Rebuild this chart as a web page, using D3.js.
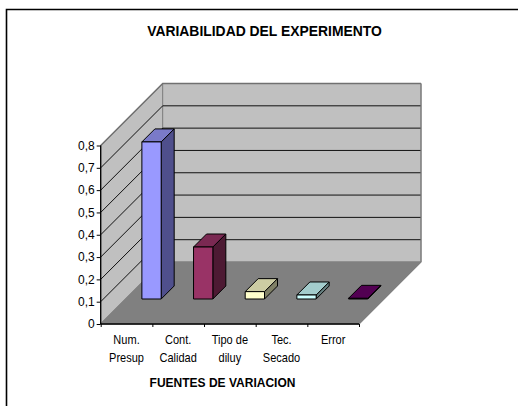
<!DOCTYPE html>
<html><head><meta charset="utf-8">
<script src="https://cdn.jsdelivr.net/npm/d3@7/dist/d3.min.js"></script>
<style>html,body{margin:0;padding:0;background:#fff}svg{display:block}text{font-family:"Liberation Sans",Arial,sans-serif;fill:#000}</style>
</head><body><div id="c"></div>
<script>
const categories = [["Num.","Presup"],["Cont.","Calidad"],["Tipo de","diluy"],["Tec.","Secado"],["Error"]];
const values = [0.704, 0.233, 0.033, 0.018, 0.003];
const frontColors = ["#9999FF","#993366","#FFFFCC","#CCFFFF","#660066"];
const topColors = ["#7A7AC9","#7A2952","#CCCCA3","#A3CCCC","#520052"];
const sideColors = ["#4F4F8C","#4D1A33","#808066","#668080","#330033"];
const yTicks = [0,0.1,0.2,0.3,0.4,0.5,0.6,0.7,0.8];
const titleText = "VARIABILIDAD DEL EXPERIMENTO";
const xTitleText = "FUENTES DE VARIACION";

const W=518,H=406, depth=62, barDepth=13, barOffset=25;
const svg=d3.select("#c").append("svg").attr("width",W).attr("height",H);
const x=d3.scaleBand().domain(d3.range(categories.length)).range([100.7,359]).paddingInner(0).paddingOuter(0);
const y=d3.scaleLinear().domain([0,0.8]).range([324,145.5]);
const bw=x.bandwidth(), barW=19.3;
const pts=a=>a.map(p=>p.join(",")).join(" ");
const xl=x.range()[0], xr=x.range()[1];

// outer frame (only top and left are visible)
svg.append("path").attr("d",`M6.5,${H}V9.5H${W}`).attr("fill","none").attr("stroke","#000").attr("stroke-width",1.6);

// walls and floor
svg.append("polygon").attr("points",pts([[xl,y(0)],[xl,y(0.8)],[xl+depth,y(0.8)-depth],[xl+depth,y(0)-depth]])).attr("fill","#C0C0C0").attr("stroke","#808080");
svg.append("polygon").attr("points",pts([[xl+depth,y(0)-depth],[xl+depth,y(0.8)-depth],[xr+depth,y(0.8)-depth],[xr+depth,y(0)-depth]])).attr("fill","#C0C0C0").attr("stroke","#808080");
svg.append("polygon").attr("points",pts([[xl,y(0)],[xr,y(0)],[xr+depth,y(0)-depth],[xl+depth,y(0)-depth]])).attr("fill","#808080").attr("stroke","#808080");

// gridlines
const inner=yTicks.filter(t=>t>0&&t<0.8);
svg.append("g").selectAll("path").data(inner).join("path")
  .attr("d",t=>`M${xl},${y(t)}L${xl+depth},${y(t)-depth}H${xr+depth}`)
  .attr("fill","none").attr("stroke","#111").attr("stroke-width",1);
svg.append("path").attr("d",`M${xl},${y(0.8)}L${xl+depth},${y(0.8)-depth}H${xr+depth}`).attr("fill","none").attr("stroke","#707070").attr("stroke-width",1.4);
svg.append("path").attr("d",`M${xr+depth},${y(0.8)-depth}V${y(0)-depth}L${xr},${y(0)}`).attr("fill","none").attr("stroke","#808080").attr("stroke-width",1.2);
svg.append("path").attr("d",`M${xl},${y(0)}L${xl+depth},${y(0)-depth}`).attr("fill","none").attr("stroke","#808080").attr("stroke-width",1.2);

// 3D bars
const bars=svg.append("g").selectAll("g").data(values).join("g");
const bx=(d,i)=>x(i)+barOffset+(bw-barW)/2;
const by0=y(0)-barOffset;
const barTop=d=>by0-(y(0)-y(d));
bars.append("polygon").attr("points",(d,i)=>{const l=bx(d,i),r=l+barW,t=barTop(d);return pts([[r,t],[r+barDepth,t-barDepth],[r+barDepth,by0-barDepth],[r,by0]]);})
  .attr("fill",(d,i)=>sideColors[i]);
bars.append("polygon").attr("points",(d,i)=>{const l=bx(d,i),r=l+barW,t=barTop(d);return pts([[l,t],[l+barDepth,t-barDepth],[r+barDepth,t-barDepth],[r,t]]);})
  .attr("fill",(d,i)=>topColors[i]);
bars.append("rect").attr("x",(d,i)=>bx(d,i)).attr("y",d=>barTop(d)).attr("width",barW).attr("height",d=>by0-barTop(d))
  .attr("fill",(d,i)=>frontColors[i]);
bars.selectAll("polygon,rect").attr("stroke","#000").attr("stroke-width",1).attr("stroke-linejoin","round");

// axes
const yAxis=d3.axisLeft(y).tickValues(yTicks).tickSize(4).tickPadding(2).tickFormat(d=>d===0?"0":String(d3.format(".1f")(d)).replace(".",","));
const gy=svg.append("g").attr("transform",`translate(${xl},0)`).call(yAxis);
gy.select(".domain").attr("stroke","#000").attr("stroke-width",1.3).attr("d",`M0,${y(0.8)}V${y(0)}`);
gy.selectAll("text").attr("font-size",12).attr("style",'font-family:"Liberation Sans",Arial,sans-serif');
const tickScale=d3.scaleLinear().domain([0,categories.length]).range([xl,xr]);
const xAxis=d3.axisBottom(tickScale).ticks(categories.length).tickSize(3).tickFormat("");
const gx=svg.append("g").attr("transform",`translate(0,${y(0)})`).call(xAxis);
gx.select(".domain").attr("stroke","#000").attr("stroke-width",1.3).attr("d",`M${xl},0H${xr}`);

// category labels
const lab=svg.append("g").selectAll("text").data(categories).join("text")
  .attr("text-anchor","middle").attr("font-size",12)
  .attr("transform",(d,i)=>`translate(${x(i)+bw/2},344) scale(0.92,1)`);
lab.selectAll("tspan").data(d=>d).join("tspan").attr("x",0).attr("y",(d,i)=>i*18).text(d=>d);

// titles
svg.append("text").attr("x",264.5).attr("y",36).attr("text-anchor","middle").attr("font-size",13.9).attr("font-weight","bold").text(titleText);
svg.append("text").attr("x",222.5).attr("y",387).attr("text-anchor","middle").attr("font-size",12).attr("font-weight","bold").text(xTitleText);
</script></body></html>
